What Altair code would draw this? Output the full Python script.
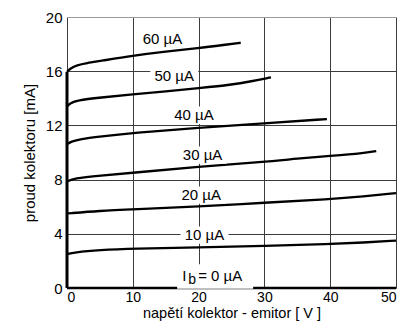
import altair as alt
import pandas as pd

# ---- data ----
ib_labels = ["60 µA", "50 µA", "40 µA", "30 µA", "20 µA", "10 µA"]

v60 = [0, 0.5, 1.5, 3, 5, 10, 15, 20, 24, 26.4]
i60 = [15.95, 16.2, 16.45, 16.6, 16.75, 17.15, 17.45, 17.7, 17.95, 18.1]

v50 = [0, 0.5, 1.5, 5, 10, 15, 20, 25, 28, 31]
i50 = [13.4, 13.65, 13.85, 14.05, 14.3, 14.5, 14.75, 15.0, 15.25, 15.55]

v40 = [0, 0.6, 2, 5, 10, 20, 30, 39.5]
i40 = [10.6, 10.8, 11.0, 11.17, 11.45, 11.83, 12.15, 12.47]

v30 = [0, 1, 5, 10, 20, 30, 35, 40, 45, 47]
i30 = [7.85, 8.1, 8.3, 8.5, 8.95, 9.3, 9.55, 9.75, 9.95, 10.1]

v20 = [0, 5, 10, 20, 30, 40, 45, 50]
i20 = [5.5, 5.7, 5.8, 6.0, 6.3, 6.55, 6.75, 7.0]

v10 = [0, 1, 5, 10, 20, 30, 40, 45, 50]
i10 = [2.5, 2.63, 2.8, 2.9, 3.0, 3.1, 3.25, 3.35, 3.5]

v0 = [0, 50]
i0 = [0, 0]

# curve label positions (V, mA)
label_v = [14.5, 16.3, 19.3, 20.6, 20.4, 20.9]
label_i = [18.4, 15.67, 12.75, 9.8, 6.85, 3.9]

ib0_v = 17.5
ib0_i = 0.85

FONT = "Liberation Sans"

# ---- build tables ----
rows = []
for name, vs, is_ in [("60", v60, i60), ("50", v50, i50), ("40", v40, i40),
                      ("30", v30, i30), ("20", v20, i20), ("10", v10, i10),
                      ("0", v0, i0)]:
    for k, (v, i) in enumerate(zip(vs, is_)):
        rows.append({"curve": name, "V": v, "I": i, "order": k})
curves = pd.DataFrame(rows)

labels = pd.DataFrame({"V": label_v, "I": label_i, "text": ib_labels})
ib0 = pd.DataFrame({"V": [ib0_v], "I": [ib0_i]})
vert = pd.DataFrame({"V": [0], "I": [0], "I2": [max(i60[0], i50[0], i40[0])]})

xscale = alt.Scale(domain=[0, 50], nice=False)
yscale = alt.Scale(domain=[0, 20], nice=False)

xgrid_vals = list(range(0, 51, 5))
ygrid_vals = list(range(0, 21, 2))

x_enc = alt.X("V:Q", scale=xscale,
              axis=alt.Axis(values=xgrid_vals, grid=True, ticks=False, domain=False,
                            labelExpr="datum.value % 10 == 0 ? datum.label : ''",
                            labelFlush=True, labelPadding=2, labelFontSize=14,
                            title="napětí kolektor - emitor [ V ]", titlePadding=2,
                            titleFontSize=14.5,
                            gridColor={"condition": {"test": "datum.value == 45", "value": "#9a9a9a"},
                                       "value": "#3c3c3c"}))
y_enc = alt.Y("I:Q", scale=yscale,
              axis=alt.Axis(values=ygrid_vals, grid=True, ticks=False, domain=False,
                            labelExpr="datum.value % 4 == 0 ? datum.label : ''",
                            labelPadding=5,
                            title="proud kolektoru [mA]", titlePadding=8,
                            gridColor={"condition": {"test": "datum.value == 2 || datum.value == 6 || datum.value == 20",
                                                     "value": "#9a9a9a"},
                                       "value": "#3c3c3c"}))

lines = alt.Chart(curves).mark_line(color="black", strokeWidth=2.3, interpolate="basis").encode(
    x=x_enc, y=y_enc, detail="curve:N", order="order:Q")

vline = alt.Chart(vert).mark_rule(color="black", strokeWidth=3).encode(
    x=alt.X("V:Q", scale=xscale), y=alt.Y("I:Q", scale=yscale), y2="I2:Q")

box_shape = "M-1,-0.36H1V0.36H-1Z"
label_bg = alt.Chart(labels).mark_point(shape=box_shape, filled=True, color="white",
                                        opacity=1, size=48 * 48).encode(
    x=alt.X("V:Q", scale=xscale), y=alt.Y("I:Q", scale=yscale))

label_txt = alt.Chart(labels).mark_text(font=FONT, fontSize=15, color="black").encode(
    x=alt.X("V:Q", scale=xscale), y=alt.Y("I:Q", scale=yscale), text="text:N")

ib0_bg = alt.Chart(ib0).mark_point(shape="M-1,-0.32H1V0.32H-1Z", filled=True, color="white",
                                   opacity=1, size=76 * 76).encode(
    x=alt.X("V:Q", scale=xscale), y=alt.Y("I:Q", scale=yscale), xOffset=alt.value(33))

ib0_I = alt.Chart(ib0).mark_text(font=FONT, fontSize=15, color="black", align="left").encode(
    x=alt.X("V:Q", scale=xscale), y=alt.Y("I:Q", scale=yscale), text=alt.value("I"))
ib0_b = alt.Chart(ib0).mark_text(font=FONT, fontSize=14, color="black", align="left", dx=6, dy=4).encode(
    x=alt.X("V:Q", scale=xscale), y=alt.Y("I:Q", scale=yscale), text=alt.value("b"))
ib0_rest = alt.Chart(ib0).mark_text(font=FONT, fontSize=15, color="black", align="left", dx=16).encode(
    x=alt.X("V:Q", scale=xscale), y=alt.Y("I:Q", scale=yscale), text=alt.value("= 0 µA"))

chart = alt.layer(lines, label_bg, label_txt, ib0_bg, ib0_I, ib0_b, ib0_rest, vline).properties(
    width=329, height=271,
    autosize=alt.AutoSizeParams(type="none"),
    padding={"left": 59, "top": 9, "right": 2, "bottom": 33},
    background="white",
).configure_axis(
    labelFont=FONT, titleFont=FONT, labelFontSize=15, titleFontSize=15,
    labelColor="black", titleColor="black", titleFontWeight="normal",
    gridWidth=1, gridOpacity=1,
).configure_view(stroke=None)

chart.save("out.html", embed_options={"renderer": "svg", "actions": False})
